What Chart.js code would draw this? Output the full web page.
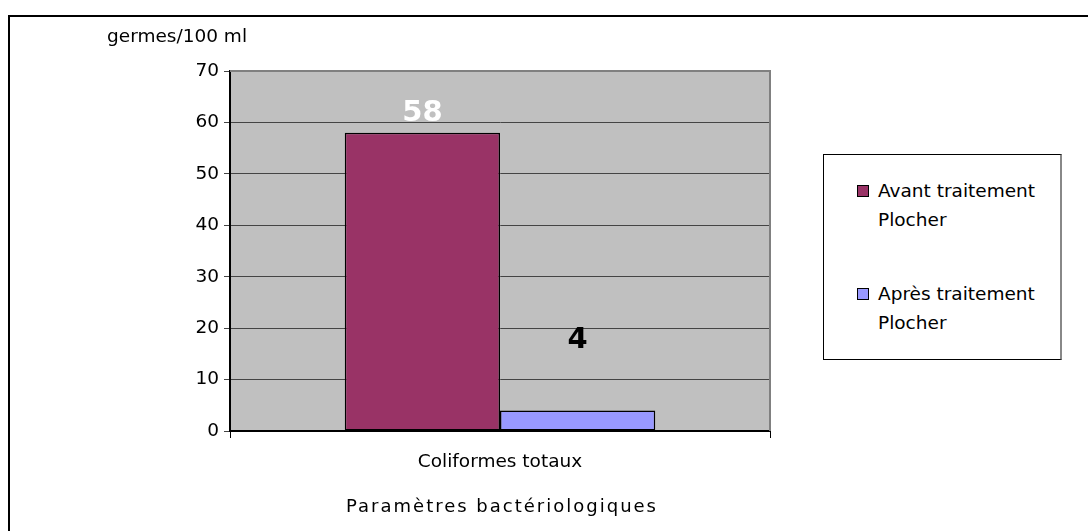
<!DOCTYPE html>
<html lang="fr">
<head>
    <meta charset="UTF-8">
    <title>Coliformes totaux</title>
    <style>
        body { margin: 0; background: #fff; }
        .wrap { position: relative; width: 1088px; height: 531px; overflow: hidden; }
        .frame {
            position: absolute; left: 8px; top: 15px; width: 1200px; height: 600px;
            border: 2px solid #000; box-sizing: border-box;
        }
        canvas { position: absolute; left: 0; top: 0; }
        /* legend box on the right */
        .legend {
            position: absolute; left: 823px; top: 154px; width: 239px; height: 206px;
            border: 1px solid #000; border-right: 2px solid #888; box-sizing: border-box;
            background: #fff;
            font-family: "DejaVu Sans", sans-serif; font-size: 18.5px; line-height: 29px; color: #000;
        }
        .item { position: absolute; left: 54px; white-space: nowrap; }
        .item .sq {
            position: absolute; left: -21px; top: 9px; width: 10px; height: 10px;
            border: 1px solid #000;
        }
    </style>
</head>
<body>
<div class="wrap">
    <div class="frame"></div>
    <canvas id="chart" width="1088" height="531"></canvas>
    <div class="legend" id="legend"></div>
</div>

<script src="https://cdn.jsdelivr.net/npm/chart.js"></script>
<script>
    // data
    const categories = ["Coliformes totaux"];
    const seriesNames = [["Avant traitement", "Plocher"], ["Après traitement", "Plocher"]];
    const avantValues = [58];
    const apresValues = [4];
    const seriesColors = ["#993366", "#9999FF"];
    const yTicks = [0, 10, 20, 30, 40, 50, 60, 70];

    // where Excel left the value labels (in axis units) and their colours
    const labelLevels = [61.8, 17.7];
    const labelColors = ["#ffffff", "#000000"];

    const FONT = "'DejaVu Sans', sans-serif";

    // plot background, value labels, axis titles
    const decorPlugin = {
        id: "decor",
        beforeDraw(chart) {
            const { ctx, chartArea: a } = chart;
            ctx.save();
            ctx.fillStyle = "#C0C0C0";
            ctx.fillRect(a.left, a.top, a.right - a.left, a.bottom - a.top);
            ctx.restore();
        },
        afterDatasetsDraw(chart) {
            const { ctx, chartArea: a } = chart;
            const y = chart.scales.y;
            ctx.save();
            // plot border right/top
            ctx.strokeStyle = "#808080";
            ctx.lineWidth = 2;
            ctx.beginPath();
            ctx.moveTo(a.left, a.top);
            ctx.lineTo(a.right, a.top);
            ctx.lineTo(a.right, a.bottom);
            ctx.stroke();

            ctx.font = "bold 29px " + FONT;
            ctx.textAlign = "center";
            ctx.textBaseline = "middle";
            chart.data.datasets.forEach((ds, i) => {
                const bar = chart.getDatasetMeta(i).data[0];
                ctx.fillStyle = labelColors[i];
                ctx.fillText(String(ds.data[0]), bar.x, y.getPixelForValue(labelLevels[i]));
            });

            ctx.fillStyle = "#000";
            ctx.font = "18.5px " + FONT;
            ctx.textAlign = "left";
            ctx.fillText("germes/100 ml", 107, 37);

            // x axis title, spaced out like the original
            ctx.font = "18px " + FONT;
            ctx.letterSpacing = "2px";
            ctx.textAlign = "center";
            ctx.fillText("Paramètres bactériologiques", (a.left + a.right) / 2 + 2, 507);
            ctx.restore();
        }
    };

    const ctx = document.getElementById("chart").getContext("2d");
    const chart = new Chart(ctx, {
        type: "bar",
        data: {
            labels: categories,
            datasets: [
                {
                    label: seriesNames[0].join(" "),
                    data: avantValues,
                    backgroundColor: seriesColors[0],
                    borderColor: "#000",
                    borderWidth: 1.5,
                    borderSkipped: false
                },
                {
                    label: seriesNames[1].join(" "),
                    data: apresValues,
                    backgroundColor: seriesColors[1],
                    borderColor: "#000",
                    borderWidth: 1.5,
                    borderSkipped: false
                }
            ]
        },
        options: {
            responsive: false,
            animation: false,
            layout: { padding: { top: 71, right: 318, left: 0, bottom: 0 } },
            categoryPercentage: 0.575,
            barPercentage: 1,
            plugins: {
                legend: { display: false },
                tooltip: { enabled: false }
            },
            scales: {
                x: {
                    offset: true,
                    afterFit(scale) { scale.height = 100; },
                    grid: {
                        offset: true,
                        drawOnChartArea: false,
                        color: "#000",
                        tickLength: 7
                    },
                    border: { color: "#000", width: 2 },
                    ticks: { color: "#000", font: { family: FONT, size: 18.5 }, padding: 13 }
                },
                y: {
                    min: 0,
                    max: 70,
                    afterBuildTicks(scale) {
                        scale.ticks = yTicks.map(v => ({ value: v }));
                    },
                    afterFit(scale) { scale.width = 230; },
                    grid: { color: "#444", lineWidth: 1, tickLength: 6 },
                    border: { color: "#000", width: 2 },
                    ticks: { color: "#000", font: { family: FONT, size: 18.5 }, padding: 5 }
                }
            }
        },
        plugins: [decorPlugin]
    });

    // html legend, two lines per entry like the original
    const legend = document.getElementById("legend");
    const tops = [21, 124];
    seriesNames.forEach((lines, i) => {
        const item = document.createElement("div");
        item.className = "item";
        item.style.top = tops[i] + "px";
        item.innerHTML = '<span class="sq" style="background:' + seriesColors[i] + '"></span>' + lines.join("<br>");
        legend.appendChild(item);
    });
</script>
</body>
</html>
